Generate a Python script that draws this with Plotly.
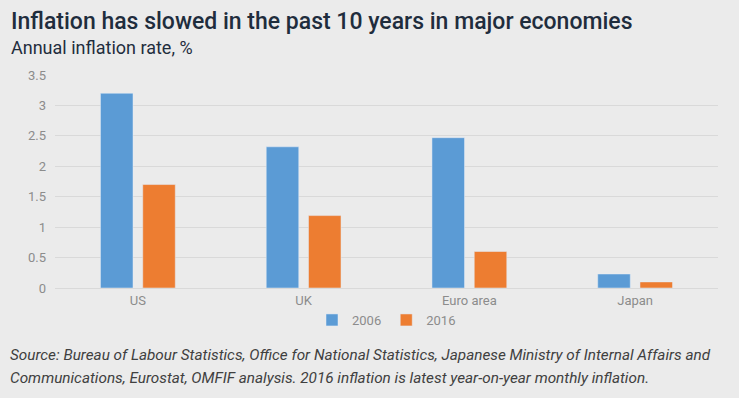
import plotly.graph_objects as go

categories = ["US", "UK", "Euro area", "Japan"]
values_2006 = [3.2, 2.32, 2.47, 0.23]
values_2016 = [1.7, 1.19, 0.6, 0.1]
y_ticks = [0, 0.5, 1, 1.5, 2, 2.5, 3, 3.5]
y_tick_labels = ["0", "0.5", "1", "1.5", "2", "2.5", "3", "3.5"]

BG = "#ebebeb"
W, H = 739, 398
L, R, T, B = 55, 21, 75, 110

fig = go.Figure()
fig.add_trace(go.Bar(name="2006", x=categories, y=values_2006, marker_color="#5b9bd5"))
fig.add_trace(go.Bar(name="2016", x=categories, y=values_2016, marker_color="#ed7d31"))

fam = "Roboto, sans-serif"

def f(size, color, weight="normal", style="normal"):
    return dict(family=fam, size=size, color=color, weight=weight, style=style)

fig.update_layout(
    width=W, height=H,
    paper_bgcolor=BG, plot_bgcolor=BG,
    margin=dict(l=L, r=R, t=T, b=B, autoexpand=False),
    barmode="group", bargap=0.49, bargroupgap=0.23,
    showlegend=True,
    legend=dict(orientation="h", x=0.5, xanchor="center", yref="container", y=1 - 320 / H,
                yanchor="middle", font=f(13, "#8c8c8c"),
                itemwidth=30, traceorder="normal", bgcolor="rgba(0,0,0,0)"),
    font=f(13, "#8c8c8c"),
    xaxis=dict(showgrid=False, showline=True, linecolor="#d9d9d9", linewidth=1, automargin=False,
               tickfont=f(13, "#8c8c8c"), ticks="", fixedrange=True),
    yaxis=dict(range=[0, 3.5], tickvals=y_ticks, ticktext=y_tick_labels, showgrid=True, automargin=False,
               gridcolor="#d9d9d9", gridwidth=1, zeroline=False, showline=False,
               tickfont=f(13, "#8c8c8c"), ticks="", ticklabelstandoff=8),
)

pw = W - L - R
ph = H - T - B
def px_to_paper_x(px):
    return (px - L) / pw
def px_to_paper_y(py):
    return (H - B - py) / ph

fig.add_annotation(text="Inflation has slowed in the past 10 years in major economies",
                   xref="paper", yref="paper", x=px_to_paper_x(9), y=px_to_paper_y(22),
                   xanchor="left", yanchor="middle", showarrow=False,
                   font=f(23, "#1f2d3d", weight=500))
fig.add_annotation(text="Annual inflation rate, %",
                   xref="paper", yref="paper", x=px_to_paper_x(9), y=px_to_paper_y(48),
                   xanchor="left", yanchor="middle", showarrow=False,
                   font=f(18, "#1f2d3d"))
source_lines = [
    "Source: Bureau of Labour Statistics, Office for National Statistics, Japanese Ministry of Internal Affairs and",
    "Communications, Eurostat, OMFIF analysis. 2016 inflation is latest year-on-year monthly inflation.",
]
for line, ypx in zip(source_lines, [355, 378]):
    fig.add_annotation(text=line,
                       xref="paper", yref="paper", x=px_to_paper_x(8), y=px_to_paper_y(ypx),
                       xanchor="left", yanchor="middle", showarrow=False,
                       font=f(15.3, "#404040", style="italic"))

fig.write_html("out.html", config={"displayModeBar": False},
               post_script="document.body.style.margin='0';")
